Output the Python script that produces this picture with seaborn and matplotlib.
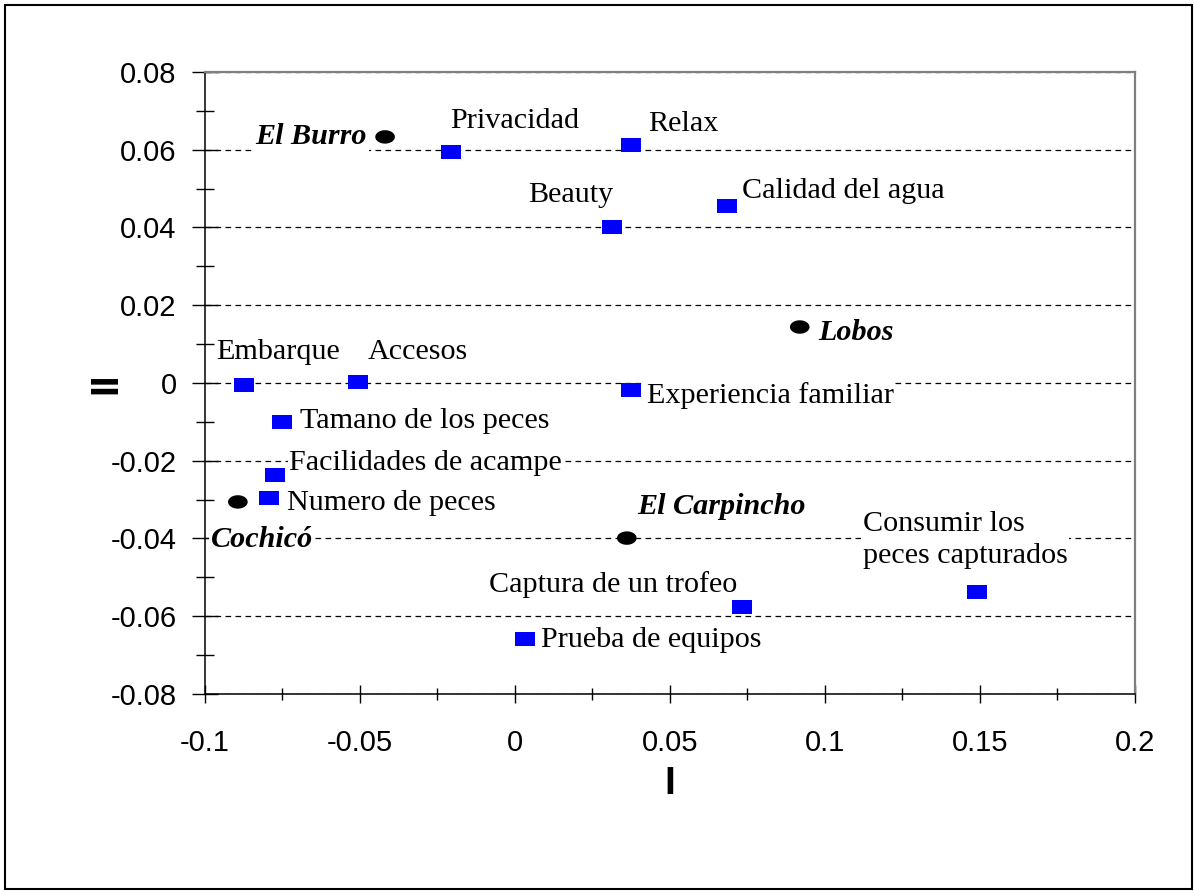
import numpy as np
import pandas as pd
import matplotlib
matplotlib.use('Agg')
import matplotlib.pyplot as plt
import seaborn as sns
from matplotlib.patches import Rectangle
from matplotlib.ticker import MultipleLocator

# factores (cuadrados azules)
factors = ['Privacidad', 'Relax', 'Beauty', 'Calidad del agua', 'Embarque', 'Accesos',
           'Experiencia familiar', 'Tamano de los peces', 'Facilidades de acampe',
           'Numero de peces', 'Consumir los\npeces capturados', 'Captura de un trofeo',
           'Prueba de equipos']
factor_x = [-0.0206, 0.0374, 0.0313, 0.0684, -0.0874, -0.0506, 0.0374, -0.0752, -0.0774,
            -0.0794, 0.1490, 0.0732, 0.0032]
factor_y = [0.0594, 0.0612, 0.0401, 0.0455, -0.0005, 0.0003, -0.0018, -0.0100, -0.0237,
            -0.0296, -0.0538, -0.0576, -0.0659]

# sitios (elipses negras)
sites = ['El Burro', 'Lobos', 'Cochicó', 'El Carpincho']
site_x = [-0.0419, 0.0919, -0.0894, 0.0361]
site_y = [0.0633, 0.0144, -0.0306, -0.0399]

# posicion de las etiquetas (offset en pixeles, alineacion)
factor_offsets = [(-1, 31, 'left'), (17, 21, 'left'), (1, 32, 'right'), (15, 15, 'left'),
                  (-28, 33, 'left'), (10, 30, 'left'), (16, -6, 'left'), (18, 1, 'left'),
                  (14, 12, 'left'), (18, -5, 'left'), (-114, 52, 'left'), (-5, 22, 'right'),
                  (16, -1, 'left')]
site_offsets = [(-18, 0, 'right'), (18, -5, 'left'), (-27, -38, 'left'), (10, 32, 'left')]

df = pd.concat([
    pd.DataFrame({'x': factor_x, 'y': factor_y, 'tipo': 'factor'}),
    pd.DataFrame({'x': site_x, 'y': site_y, 'tipo': 'sitio'}),
], ignore_index=True)

sns.set_style('ticks')
plt.rcParams['font.family'] = ['Liberation Sans', 'DejaVu Sans']
plt.rcParams['text.color'] = 'black'
plt.rcParams['axes.labelcolor'] = 'black'
plt.rcParams['xtick.color'] = 'black'
plt.rcParams['ytick.color'] = 'black'

rect_marker = [(-1.46, -1), (1.46, -1), (1.46, 1), (-1.46, 1), (-1.46, -1)]
t = np.linspace(0, 2 * np.pi, 40)
ell_marker = list(zip(1.46 * np.cos(t), np.sin(t)))

fig = plt.figure(figsize=(11.94, 8.92), dpi=100)
ax = fig.add_axes([0.1717, 0.2220, 0.7787, 0.6973])

sns.scatterplot(data=df, x='x', y='y', hue='tipo', style='tipo',
                palette={'factor': '#0000FF', 'sitio': 'black'},
                markers={'factor': rect_marker, 'sitio': ell_marker},
                s=200, linewidth=0, legend=False, ax=ax, zorder=4)

ax.set_xlim(-0.1, 0.2)
ax.set_ylim(-0.08, 0.08)
ax.xaxis.set_major_locator(MultipleLocator(0.05))
ax.xaxis.set_minor_locator(MultipleLocator(0.025))
ax.yaxis.set_major_locator(MultipleLocator(0.02))
ax.yaxis.set_minor_locator(MultipleLocator(0.01))
ax.set_xticklabels([f'{v:g}' for v in ax.get_xticks()])
ax.set_yticklabels([f'{v:g}' for v in ax.get_yticks()])

ax.tick_params(axis='both', which='major', labelsize=21, direction='inout',
               color='black', labelcolor='black', width=1)
ax.tick_params(axis='y', which='major', length=19, pad=11)
ax.tick_params(axis='x', which='major', length=13, pad=19)
ax.tick_params(axis='y', which='minor', length=13, direction='inout', width=1)
ax.tick_params(axis='x', which='minor', length=9, direction='inout', width=1)

ax.yaxis.grid(True, which='major', color='black', lw=0.9, linestyle=(0, (4.5, 3.5)))
ax.set_axisbelow(True)

for side in ['left', 'bottom']:
    ax.spines[side].set_color('black')
    ax.spines[side].set_linewidth(1.1)
for side in ['top', 'right']:
    ax.spines[side].set_color('#7f7f7f')
    ax.spines[side].set_linewidth(1.6)

ax.set_xlabel('I', fontsize=28, fontweight='bold', labelpad=6, color='black')
ax.set_ylabel('II', fontsize=28, fontweight='bold', labelpad=-10, color='black')

box = dict(boxstyle='square,pad=0.05', fc='white', ec='none')
for name, x, y, (dx, dy, ha) in zip(factors, factor_x, factor_y, factor_offsets):
    ax.annotate(name, (x, y), xytext=(dx, dy), textcoords='offset pixels',
                ha=ha, va='center', fontsize=21.7, color='black',
                family=['Liberation Serif', 'DejaVu Serif'],
                linespacing=1.3, bbox=box, zorder=3)
for name, x, y, (dx, dy, ha) in zip(sites, site_x, site_y, site_offsets):
    ax.annotate(name, (x, y), xytext=(dx, dy), textcoords='offset pixels',
                ha=ha, va='center', fontsize=21.7, fontweight='bold', fontstyle='italic',
                color='black', family=['Liberation Serif', 'DejaVu Serif'], bbox=box, zorder=3)

fig.patches.append(Rectangle((0.004, 0.003), 0.994, 0.991, transform=fig.transFigure,
                             fill=False, ec='black', lw=1.5))

fig.savefig('out.png', dpi=100)
